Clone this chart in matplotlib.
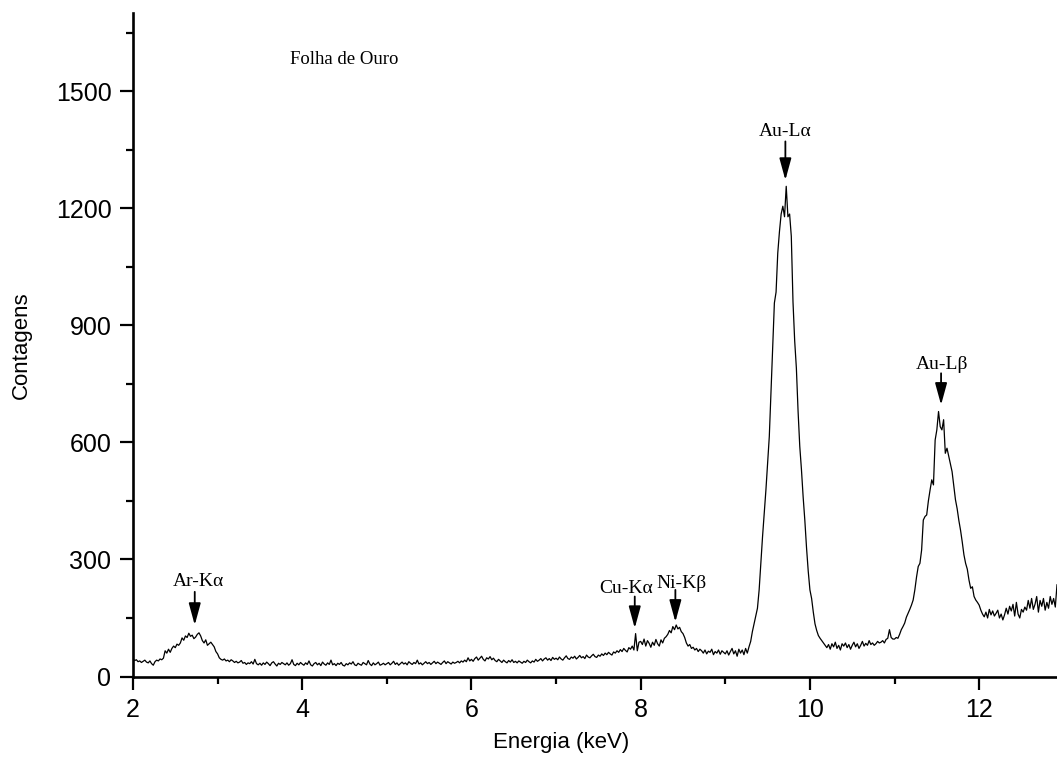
import numpy as np
import matplotlib
matplotlib.use('Agg')
import matplotlib.pyplot as plt
from matplotlib.ticker import MultipleLocator

# counts per channel, 0.02 keV per channel, one list per keV
counts_2 = [45, 41, 43, 38, 40, 36, 39, 42, 37, 35,
            40, 33, 29, 38, 42, 40, 45, 43, 47, 66,
            60, 70, 62, 72, 78, 74, 83, 80, 86, 99,
            93, 104, 100, 111, 103, 106, 97, 101, 108, 112,
            104, 92, 86, 94, 80, 84, 88, 82, 76, 64]
counts_3 = [58, 48, 44, 42, 45, 40, 42, 38, 43, 40,
            36, 39, 35, 37, 41, 34, 36, 31, 35, 33,
            38, 32, 44, 33, 30, 34, 29, 35, 31, 37,
            33, 28, 35, 38, 32, 27, 34, 31, 36, 33,
            30, 35, 29, 33, 43, 31, 28, 34, 30, 36]
counts_4 = [32, 29, 35, 31, 40, 30, 27, 33, 36, 30,
            34, 28, 37, 32, 29, 35, 31, 42, 30, 33,
            28, 34, 31, 36, 29, 27, 33, 30, 35, 32,
            38, 30, 28, 34, 31, 29, 36, 33, 30, 41,
            32, 28, 35, 30, 33, 37, 29, 31, 34, 30]
counts_5 = [33, 36, 30, 34, 39, 31, 35, 29, 33, 37,
            32, 35, 30, 38, 34, 31, 36, 33, 42, 32,
            35, 30, 34, 38, 33, 36, 31, 35, 39, 33,
            37, 34, 31, 36, 40, 33, 38, 35, 32, 37,
            34, 36, 39, 35, 40, 37, 42, 38, 48, 40]
counts_6 = [44, 39, 46, 50, 42, 47, 52, 44, 40, 48,
            45, 51, 43, 47, 41, 38, 44, 40, 36, 42,
            38, 35, 41, 37, 43, 36, 39, 35, 40, 37,
            34, 39, 36, 42, 38, 35, 40, 37, 44, 39,
            42, 46, 40, 45, 48, 42, 46, 41, 49, 44]
counts_7 = [47, 43, 50, 45, 42, 48, 53, 46, 44, 50,
            47, 52, 45, 49, 54, 48, 51, 46, 55, 50,
            48, 53, 57, 51, 49, 55, 52, 58, 54, 60,
            56, 62, 58, 55, 63, 60, 66, 62, 69, 64,
            72, 67, 63, 74, 70, 78, 68, 110, 66, 88]
counts_8 = [90, 82, 96, 78, 92, 85, 75, 88, 80, 95,
            84, 78, 94, 86, 98, 102, 108, 118, 112, 128,
            120, 132, 122, 126, 115, 110, 100, 86, 78, 82,
            72, 75, 68, 72, 64, 70, 66, 60, 68, 58,
            65, 62, 70, 56, 64, 60, 68, 57, 66, 62]
counts_9 = [58, 66, 55, 64, 72, 58, 66, 52, 70, 60,
            68, 56, 72, 60, 76, 90, 115, 135, 155, 175,
            222, 290, 358, 418, 478, 545, 615, 730, 840, 957,
            985, 1085, 1140, 1185, 1205, 1178, 1256, 1178, 1185, 1128,
            960, 860, 790, 680, 590, 530, 460, 400, 330, 270]
counts_10 = [222, 200, 165, 135, 118, 105, 98, 92, 86, 80,
             74, 82, 70, 84, 76, 88, 72, 80, 68, 84,
             78, 86, 74, 82, 70, 80, 88, 76, 84, 72,
             80, 90, 78, 85, 80, 92, 82, 86, 80, 84,
             90, 86, 88, 92, 86, 95, 98, 120, 100, 96]
counts_11 = [96, 100, 98, 108, 120, 128, 137, 152, 162, 172,
             183, 196, 222, 255, 282, 290, 324, 401, 410, 414,
             450, 478, 504, 491, 606, 632, 679, 640, 632, 658,
             572, 585, 565, 545, 525, 490, 453, 430, 400, 375,
             345, 312, 290, 275, 247, 226, 230, 205, 196, 190]
counts_12 = [183, 170, 160, 153, 165, 150, 172, 158, 168, 155,
             162, 170, 150, 160, 145, 158, 175, 160, 180, 168,
             185, 155, 190, 160, 150, 172, 165, 178, 170, 195,
             175, 200, 172, 185, 205, 165, 195, 180, 200, 170,
             190, 175, 205, 185, 200, 178, 235]

e_start = 2.0
e_step = 0.02

# peak labels: text, energy, arrow tip, arrow tail, text position (counts)
peak_names = ['Ar-K\u03b1', 'Cu-K\u03b1', 'Ni-K\u03b2', 'Au-L\u03b1', 'Au-L\u03b2']
peak_energy = [2.73, 7.93, 8.41, 9.71, 11.55]
peak_tip = [132, 124, 140, 1272, 696]
peak_tail = [217, 205, 222, 1371, 777]
peak_text_y = [243, 226, 239, 1397, 800]
peak_text_x = [2.77, 7.83, 8.48, 9.71, 11.56]

counts = np.array(counts_2 + counts_3 + counts_4 + counts_5 + counts_6 + counts_7
                  + counts_8 + counts_9 + counts_10 + counts_11 + counts_12)
energy = e_start + e_step * np.arange(len(counts))

plt.rcParams['font.family'] = ['Liberation Sans', 'DejaVu Sans']

fig = plt.figure(figsize=(10.57, 7.57), dpi=100)
ax = fig.add_axes([0.1258, 0.1063, 0.8742, 0.8765])

ax.plot(energy, counts, color='black', lw=0.9)

ax.set_xlim(2, 12.92)
ax.set_ylim(0, 1700)
ax.xaxis.set_major_locator(MultipleLocator(2))
ax.xaxis.set_minor_locator(MultipleLocator(1))
ax.yaxis.set_major_locator(MultipleLocator(300))
ax.yaxis.set_minor_locator(MultipleLocator(150))

for side in ['top', 'right']:
    ax.spines[side].set_visible(False)
for side in ['left', 'bottom']:
    ax.spines[side].set_linewidth(1.9)
ax.tick_params(which='major', direction='out', length=9.5, width=1.6,
               labelsize=18, pad=6)
ax.tick_params(which='minor', direction='out', length=4.8, width=1.6)

ax.set_xlabel('Energia (keV)', fontsize=16)
ax.set_ylabel('Contagens', fontsize=16)
ax.xaxis.set_label_coords(0.463, -0.084)
ax.yaxis.set_label_coords(-0.109, 0.5)

serif = ['Liberation Serif', 'DejaVu Serif']
ax.text(3.86, 1581, 'Folha de Ouro', family=serif, fontsize=13.5,
        ha='left', va='center')

for name, xe, tip, tail, ty, tx in zip(peak_names, peak_energy, peak_tip,
                                       peak_tail, peak_text_y, peak_text_x):
    ax.annotate('', xy=(xe, tip), xytext=(xe, tail),
                arrowprops=dict(arrowstyle='-|>,head_length=0.95,head_width=0.26',
                                mutation_scale=14, color='black', lw=1.3,
                                shrinkA=0, shrinkB=0))
    ax.text(tx, ty, name, family=serif, fontsize=14, ha='center', va='center')

fig.savefig('out.png', dpi=100)
